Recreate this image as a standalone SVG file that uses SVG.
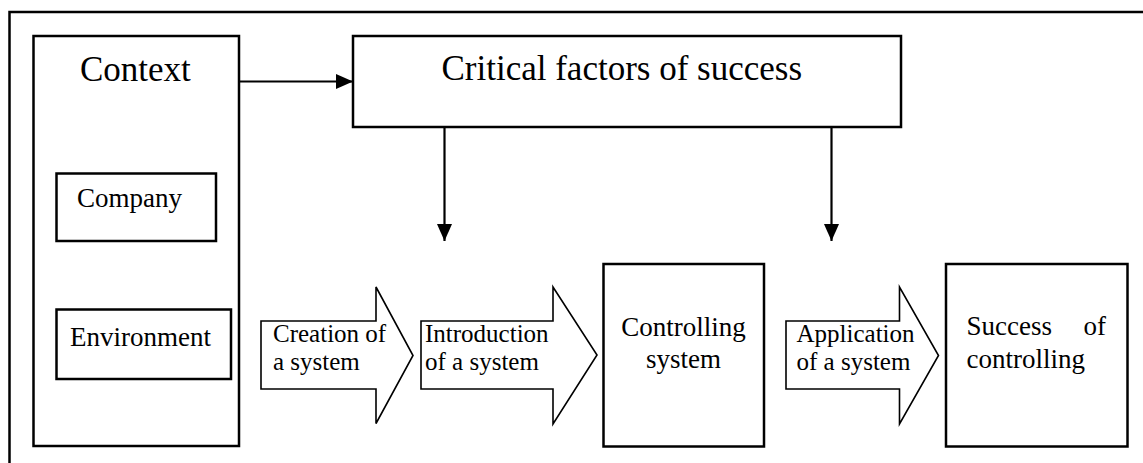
<svg xmlns="http://www.w3.org/2000/svg" width="1143" height="463" viewBox="0 0 1143 463">
  <style>
    .box { fill: #fff; stroke: #000; stroke-width: 2.5; }
    .frame { fill: none; stroke: #000; stroke-width: 2.5; }
    .flow { fill: #fff; stroke: #000; stroke-width: 1.6; stroke-linejoin: miter; }
    .link { fill: none; stroke: #000; stroke-width: 2.2; }
    text { font-family: "Liberation Serif", "Times New Roman", serif; fill: #000; }
    .big { font-size: 35px; }
    .mid { font-size: 27px; }
    .small { font-size: 25px; }
  </style>
  <defs>
    <marker id="tri" viewBox="0 0 17 15" refX="17" refY="7.5" markerWidth="17" markerHeight="15" markerUnits="userSpaceOnUse" orient="auto">
      <path d="M0,0 L17,7.5 L0,15 Z" fill="#000"/>
    </marker>
  </defs>

  <!-- outer frame: only top and left edges fall inside the page -->
  <rect class="frame" x="9.5" y="12" width="1200" height="500"/>

  <g id="context">
    <rect class="box" x="33.5" y="36" width="205.5" height="410"/>
    <text class="big" x="80" y="81">Context</text>
  </g>

  <g id="company">
    <rect class="box" x="56.5" y="173.5" width="159.5" height="67.5"/>
    <text class="mid" x="77" y="207">Company</text>
  </g>

  <g id="environment">
    <rect class="box" x="56.5" y="309.5" width="174.5" height="69.5"/>
    <text class="mid" x="70" y="346">Environment</text>
  </g>

  <g id="critical-factors">
    <rect class="box" x="353" y="36" width="548" height="91"/>
    <text class="big" x="441.5" y="80">Critical factors of success</text>
  </g>

  <g id="creation">
    <path class="flow" d="M261,321 L376,321 L376,287 L413,355.5 L376,423.5 L376,389 L261,389 Z"/>
    <text class="small" x="273" y="342">Creation of</text>
    <text class="small" x="273" y="370">a system</text>
  </g>

  <g id="introduction">
    <path class="flow" d="M421,321 L553,321 L553,287 L597,355 L553,424 L553,389 L421,389 Z"/>
    <text class="small" x="425" y="342">Introduction</text>
    <text class="small" x="425" y="370">of a system</text>
  </g>

  <g id="controlling-system">
    <rect class="box" x="603.5" y="264" width="160.5" height="182.5"/>
    <text class="mid" x="683.5" y="336" text-anchor="middle">Controlling</text>
    <text class="mid" x="683.5" y="368" text-anchor="middle">system</text>
  </g>

  <g id="application">
    <path class="flow" d="M786,321 L899.5,321 L899.5,287 L938.5,355.5 L899.5,424 L899.5,389 L786,389 Z"/>
    <text class="small" x="796.5" y="342">Application</text>
    <text class="small" x="796.5" y="370">of a system</text>
  </g>

  <g id="success">
    <rect class="box" x="946" y="264" width="181.5" height="182.5"/>
    <text class="mid" x="966.5" y="335">Success</text>
    <text class="mid" x="1106" y="335" text-anchor="end">of</text>
    <text class="mid" x="966.5" y="368">controlling</text>
  </g>

  <g id="connectors">
    <line class="link" x1="239" y1="81.5" x2="353" y2="81.5" marker-end="url(#tri)"/>
    <line class="link" x1="444.5" y1="127" x2="444.5" y2="241" marker-end="url(#tri)"/>
    <line class="link" x1="831.5" y1="127" x2="831.5" y2="241" marker-end="url(#tri)"/>
  </g>
</svg>
